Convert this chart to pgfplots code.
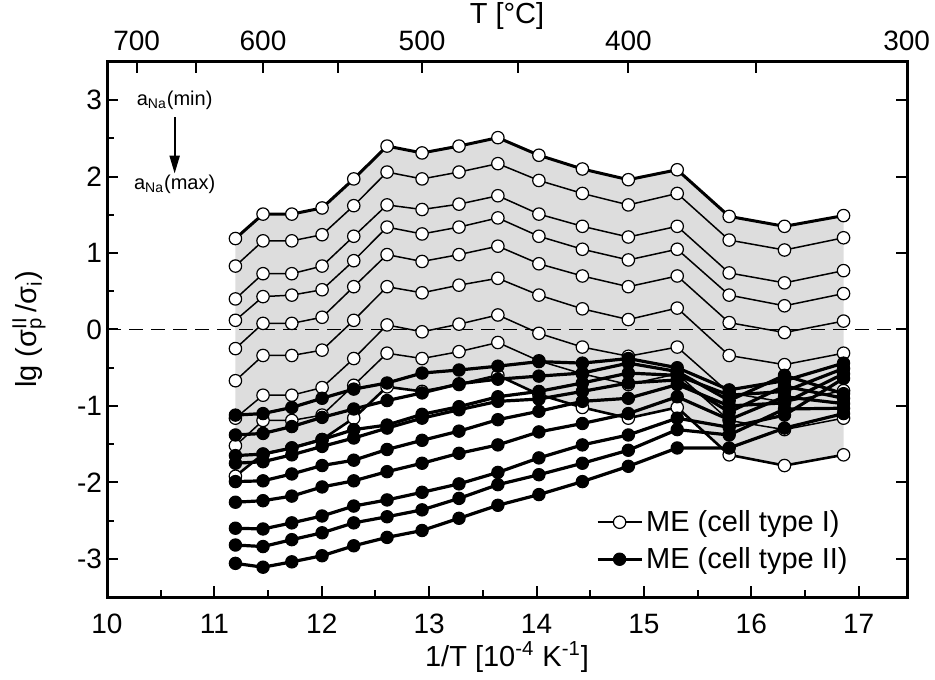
\documentclass[border=0pt]{standalone}
\usepackage{fontspec}
\setmainfont{Liberation Sans}
\usepackage{pgfplots}
\usepackage{pgfplotstable}
\pgfplotsset{compat=1.18}
\usepgfplotslibrary{fillbetween}
\usetikzlibrary{arrows.meta}

% cell type I (open circles), 9 levels of a_Na
\pgfplotstableread{
x      s1    s2    s3    s4    s5    s6    s7    s8    s9
11.196 1.19  0.83  0.40  0.12  -0.25 -0.67 -1.16 -1.52 -1.92
11.453 1.51  1.16  0.73  0.43  0.08  -0.34 -0.86 -1.19 -1.63
11.721 1.51  1.16  0.73  0.45  0.08  -0.34 -0.86 -1.19 -1.55
12.003 1.59  1.24  0.83  0.52  0.16  -0.27 -0.76 -1.12 -1.44
12.298 1.97  1.62  1.22  0.90  0.56  0.12  -0.38 -0.73 -1.16
12.608 2.40  2.06  1.63  1.34  0.98  0.56  0.06  -0.31 -0.75
12.934 2.31  1.97  1.57  1.25  0.89  0.48  -0.03 -0.38 -0.81
13.278 2.40  2.06  1.64  1.34  0.98  0.58  0.07  -0.29 -0.72
13.640 2.51  2.17  1.75  1.46  1.09  0.67  0.19  -0.17 -0.60
14.022 2.28  1.95  1.51  1.22  0.86  0.45  -0.05 -0.41 -0.85
14.427 2.10  1.78  1.35  1.05  0.70  0.27  -0.23 -0.58 -1.02
14.855 1.96  1.63  1.21  0.91  0.56  0.13  -0.35 -0.72 -1.16
15.310 2.09  1.78  1.35  1.05  0.70  0.28  -0.23 -0.58 -1.02
15.794 1.48  1.17  0.74  0.45  0.09  -0.34 -0.83 -1.19 -1.64
16.309 1.35  1.04  0.61  0.31  -0.04 -0.46 -0.95 -1.31 -1.78
16.859 1.49  1.20  0.77  0.47  0.11  -0.31 -0.80 -1.16 -1.64
}\typeone

% cell type II (filled circles)
\pgfplotstableread{
x      b1    b2    b3    b4    b5    b6    b7    b8    b9
11.196 -1.12 -1.38 -1.65 -1.75 -1.99 -2.26 -2.60 -2.82 -3.06
11.453 -1.10 -1.36 -1.63 -1.73 -1.98 -2.24 -2.61 -2.84 -3.11
11.721 -1.02 -1.27 -1.55 -1.64 -1.89 -2.18 -2.53 -2.75 -3.04
12.003 -0.90 -1.15 -1.44 -1.53 -1.78 -2.06 -2.44 -2.66 -2.96
12.298 -0.78 -1.04 -1.31 -1.42 -1.71 -1.98 -2.31 -2.53 -2.83
12.608 -0.70 -0.93 -1.25 -1.29 -1.57 -1.86 -2.23 -2.45 -2.72
12.934 -0.57 -0.83 -1.11 -1.16 -1.45 -1.75 -2.13 -2.36 -2.63
13.278 -0.53 -0.71 -1.01 -1.05 -1.33 -1.62 -2.02 -2.21 -2.47
13.640 -0.48 -0.65 -0.88 -0.94 -1.18 -1.51 -1.87 -2.03 -2.30
14.022 -0.42 -0.61 -0.81 -0.91 -1.07 -1.34 -1.68 -1.90 -2.16
14.427 -0.44 -0.57 -0.70 -0.81 -0.94 -1.23 -1.51 -1.75 -1.99
14.855 -0.38 -0.44 -0.57 -0.70 -0.90 -1.10 -1.38 -1.58 -1.79
15.310 -0.50 -0.55 -0.60 -0.66 -0.72 -0.88 -1.16 -1.31 -1.55
15.794 -0.79 -0.93 -0.86 -1.08 -1.00 -1.18 -1.28 -1.38 -1.55
16.309 -0.67 -0.60 -0.81 -0.74 -0.96 -0.88 -1.12 -1.04 -1.29
16.859 -0.44 -0.84 -0.51 -0.90 -0.58 -0.97 -0.64 -1.03 -1.10
}\typetwo

\definecolor{bandgray}{RGB}{221,221,221}

\begin{document}
\begin{tikzpicture}
\pgfplotsset{
  commonframe/.style={
    scale only axis, width=400pt, height=267.5pt,
    at={(0pt,0pt)}, anchor=south west,
    xmin=10, xmax=17.45, ymin=-3.5, ymax=3.5,
    tick align=inside,
    major tick length=5.5pt, minor tick length=3.5pt,
    every tick/.append style={black, line width=1pt},
    axis line style={line width=1.5pt},
    tick label style={font=\fontsize{14}{16}\selectfont},
    label style={font=\fontsize{14.5}{17}\selectfont},
  },
  wline/.style={black, line width=0.75pt, mark=*, mark size=3.1pt,
    mark options={fill=white, draw=black, line width=0.6pt, solid}},
  bline/.style={black, line width=1.6pt, mark=*, mark size=3.1pt,
    mark options={fill=black, draw=black, line width=0.5pt, solid}},
}
\begin{axis}[
  commonframe,
  xtick={10,...,17}, xticklabels={10,11,12,13,14,15,16,17},
  minor x tick num=1,
  ytick={-3,...,3}, yticklabels={-3,-2,-1,0,1,2,3},
  minor y tick num=1,
  xtick pos=left, ytick pos=left,
  xticklabel style={anchor=center, yshift=-13.5pt},
  yticklabel style={xshift=1pt},
  xlabel={1/T [10\textsuperscript{-4} K\textsuperscript{-1}]},
  xlabel style={at={(rel axis cs:0.5,0)}, anchor=center, yshift=-30pt},
  ylabel={lg (σ\makebox[0pt][l]{\textsuperscript{II}}\textsubscript{p}\,/σ\textsubscript{i})},
  ylabel style={at={(rel axis cs:0,0.5)}, anchor=center, rotate=0, yshift=39pt},
  legend style={draw=none, fill=none, at={(axis cs:14.55,-2.32)}, anchor=north west,
    font=\fontsize{14.5}{17}\selectfont, row sep=3.5pt, inner sep=0pt,
    nodes={inner sep=1.5pt},
    legend cell align=left},
  legend image code/.code={%
    \draw[mark repeat=2, mark phase=2, #1] plot coordinates {(0pt,0pt) (11pt,0pt) (22pt,0pt)};},
]
% shaded band for cell type I
\addplot[draw=none, name path=upper, forget plot] table[x=x, y=s1] {\typeone};
\addplot[draw=none, name path=lower, forget plot] table[x=x, y=s9] {\typeone};
\addplot[fill=bandgray, draw=none, forget plot] fill between[of=upper and lower];
% zero line
\addplot[black, line width=0.6pt, dash pattern=on 7pt off 4pt, forget plot] coordinates {(10,0) (17.45,0)};
% cell type I
\addplot[wline, line width=1.5pt, forget plot] table[x=x, y=s1] {\typeone};
\addplot[wline, forget plot] table[x=x, y=s2] {\typeone};
\addplot[wline, forget plot] table[x=x, y=s3] {\typeone};
\addplot[wline, forget plot] table[x=x, y=s4] {\typeone};
\addplot[wline, forget plot] table[x=x, y=s5] {\typeone};
\addplot[wline, forget plot] table[x=x, y=s6] {\typeone};
\addplot[wline, forget plot] table[x=x, y=s7] {\typeone};
\addplot[wline, forget plot] table[x=x, y=s8] {\typeone};
\addplot[wline, line width=1.3pt, forget plot] table[x=x, y=s9] {\typeone};
% cell type II
\addplot[bline, forget plot] table[x=x, y=b1] {\typetwo};
\addplot[bline, forget plot] table[x=x, y=b2] {\typetwo};
\addplot[bline, forget plot] table[x=x, y=b3] {\typetwo};
\addplot[bline, forget plot] table[x=x, y=b4] {\typetwo};
\addplot[bline, forget plot] table[x=x, y=b5] {\typetwo};
\addplot[bline, forget plot] table[x=x, y=b6] {\typetwo};
\addplot[bline, forget plot] table[x=x, y=b7] {\typetwo};
\addplot[bline, forget plot] table[x=x, y=b8] {\typetwo};
\addplot[bline, forget plot] table[x=x, y=b9] {\typetwo};
\addlegendimage{wline}
\addlegendentry{ME (cell type I)}
\addlegendimage{bline}
\addlegendentry{ME (cell type II)}
% a_Na annotation
\node[font=\fontsize{10}{12}\selectfont] at (axis cs:10.63,3.0) {a\textsubscript{Na}(min)};
\draw[line width=1.1pt, -{Triangle[length=9pt,width=5pt]}] (axis cs:10.63,2.78) -- (axis cs:10.63,2.04);
\node[font=\fontsize{10}{12}\selectfont] at (axis cs:10.63,1.90) {a\textsubscript{Na}(max)};
\end{axis}
\begin{axis}[
  commonframe,
  axis x line*=top, axis y line*=right,
  xtick={10.276,10.833,11.453,12.149,12.934,13.827,14.856,16.047,17.447},
  xticklabels={700,,600,,500,,400,,300},
  xticklabel style={anchor=center, yshift=10.5pt},
  ytick={-3,...,3}, yticklabels={},
  xlabel={T [°C]},
  xlabel style={at={(rel axis cs:0.5,1)}, anchor=center, yshift=23pt},
]
\end{axis}
\pgfresetboundingbox
\path[use as bounding box] (-53.5pt,-41pt) rectangle (414pt,298.5pt);
\end{tikzpicture}
\end{document}
